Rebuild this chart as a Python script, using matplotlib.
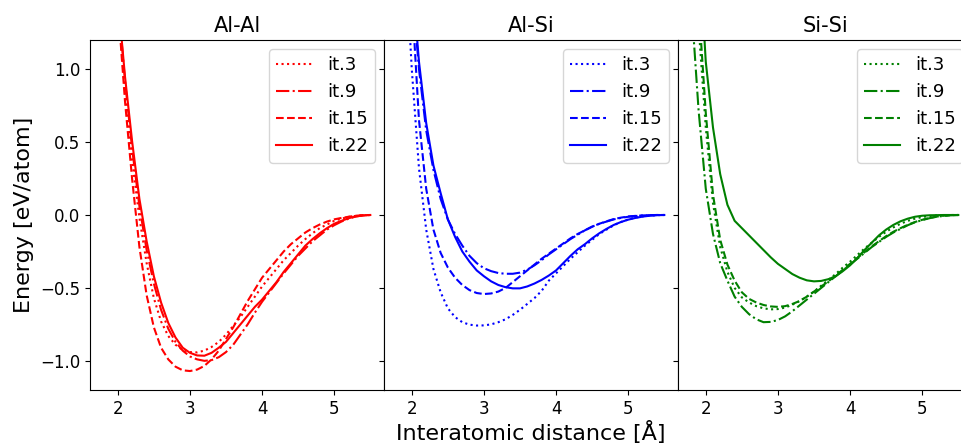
import matplotlib
matplotlib.use("Agg")
import matplotlib.pyplot as plt

# distance grid (Å)
r = [1.8, 1.9, 2.0, 2.1, 2.2, 2.3, 2.4, 2.5, 2.6, 2.7, 2.8, 2.9, 3.0, 3.1, 3.2,
     3.3, 3.4, 3.5, 3.6, 3.7, 3.8, 3.9, 4.0, 4.1, 4.2, 4.3, 4.4, 4.5, 4.6, 4.7,
     4.8, 4.9, 5.0, 5.1, 5.2, 5.3, 5.4, 5.5]

titles = ["Al-Al", "Al-Si", "Si-Si"]
colors = ["red", "blue", "green"]
labels = ["it.3", "it.9", "it.15", "it.22"]
styles = [":", "-.", "--", "-"]

# Al-Al
alal_it3 = [2.9, 2.1, 1.45, 0.85, 0.37, -0.02, -0.33, -0.57, -0.73, -0.83, -0.89, -0.925,
            -0.94, -0.942, -0.93, -0.905, -0.87, -0.82, -0.76, -0.70, -0.63, -0.56, -0.49,
            -0.43, -0.37, -0.31, -0.26, -0.21, -0.165, -0.125, -0.09, -0.065, -0.04,
            -0.025, -0.013, -0.006, -0.002, 0.0]
alal_it9 = [3.0, 2.2, 1.5, 0.92, 0.45, 0.06, -0.24, -0.47, -0.65, -0.78, -0.87, -0.93,
            -0.97, -0.99, -1.0, -0.995, -0.975, -0.94, -0.89, -0.82, -0.75, -0.67, -0.595,
            -0.53, -0.465, -0.40, -0.34, -0.28, -0.23, -0.18, -0.14, -0.10, -0.07,
            -0.045, -0.025, -0.01, -0.003, 0.0]
alal_it15 = [2.9, 2.1, 1.45, 0.78, 0.24, -0.22, -0.55, -0.77, -0.91, -0.99, -1.04, -1.065,
             -1.07, -1.06, -1.035, -0.99, -0.93, -0.85, -0.77, -0.68, -0.59, -0.51, -0.43,
             -0.37, -0.31, -0.25, -0.20, -0.16, -0.12, -0.09, -0.065, -0.045, -0.03,
             -0.02, -0.012, -0.005, -0.001, 0.0]
alal_it22 = [3.0, 2.2, 1.5, 0.95, 0.50, 0.11, -0.18, -0.42, -0.60, -0.74, -0.84, -0.91,
             -0.945, -0.963, -0.965, -0.945, -0.91, -0.87, -0.81, -0.75, -0.69, -0.63,
             -0.58, -0.52, -0.46, -0.39, -0.33, -0.27, -0.21, -0.165, -0.125, -0.09,
             -0.06, -0.04, -0.022, -0.01, -0.003, 0.0]

# Al-Si
alsi_it3 = [2.9, 1.9, 1.0, 0.32, -0.10, -0.37, -0.53, -0.64, -0.70, -0.735, -0.752, -0.758,
            -0.757, -0.75, -0.735, -0.715, -0.685, -0.65, -0.61, -0.57, -0.52, -0.45, -0.40,
            -0.35, -0.30, -0.255, -0.21, -0.17, -0.13, -0.10, -0.07, -0.048, -0.03,
            -0.018, -0.009, -0.004, -0.001, 0.0]
alsi_it9 = [3.6, 2.6, 1.6, 1.0, 0.58, 0.31, 0.11, -0.03, -0.13, -0.21, -0.28, -0.33,
            -0.365, -0.385, -0.398, -0.403, -0.403, -0.395, -0.375, -0.345, -0.31, -0.27,
            -0.235, -0.20, -0.165, -0.135, -0.105, -0.08, -0.06, -0.045, -0.03, -0.02,
            -0.012, -0.007, -0.003, -0.001, 0.0, 0.0]
alsi_it15 = [3.2, 2.2, 1.5, 0.65, 0.18, -0.10, -0.26, -0.36, -0.43, -0.48, -0.515, -0.535,
             -0.542, -0.538, -0.525, -0.50, -0.46, -0.42, -0.38, -0.34, -0.30, -0.265,
             -0.23, -0.195, -0.16, -0.13, -0.105, -0.08, -0.06, -0.043, -0.028, -0.018,
             -0.01, -0.006, -0.003, -0.001, 0.0, 0.0]
alsi_it22 = [3.7, 2.7, 1.65, 1.05, 0.63, 0.34, 0.15, -0.03, -0.15, -0.25, -0.32, -0.38,
             -0.42, -0.455, -0.48, -0.495, -0.503, -0.503, -0.49, -0.47, -0.445, -0.415,
             -0.38, -0.33, -0.28, -0.235, -0.20, -0.16, -0.125, -0.095, -0.068, -0.048,
             -0.032, -0.02, -0.011, -0.005, -0.001, 0.0]

# Si-Si
sisi_it3 = [2.0, 1.30, 0.60, 0.08, -0.22, -0.39, -0.50, -0.565, -0.60, -0.625, -0.64, -0.647,
            -0.645, -0.635, -0.615, -0.59, -0.56, -0.525, -0.485, -0.445, -0.405, -0.36,
            -0.32, -0.275, -0.23, -0.19, -0.15, -0.115, -0.085, -0.06, -0.04, -0.025,
            -0.014, -0.007, -0.003, -0.001, 0.0, 0.0]
sisi_it9 = [1.45, 0.72, 0.18, -0.13, -0.33, -0.45, -0.56, -0.63, -0.68, -0.715, -0.735, -0.733,
            -0.72, -0.695, -0.66, -0.62, -0.58, -0.54, -0.50, -0.46, -0.42, -0.38, -0.34,
            -0.30, -0.26, -0.22, -0.185, -0.15, -0.12, -0.095, -0.07, -0.05, -0.035,
            -0.022, -0.012, -0.006, -0.002, 0.0]
sisi_it15 = [2.2, 1.45, 0.70, 0.14, -0.17, -0.34, -0.45, -0.53, -0.575, -0.60, -0.617, -0.627,
             -0.63, -0.625, -0.61, -0.59, -0.56, -0.525, -0.49, -0.455, -0.415, -0.375,
             -0.335, -0.295, -0.255, -0.215, -0.18, -0.145, -0.115, -0.09, -0.067, -0.048,
             -0.033, -0.02, -0.011, -0.005, -0.001, 0.0]
sisi_it22 = [3.0, 1.9, 1.05, 0.60, 0.28, 0.07, -0.04, -0.09, -0.14, -0.19, -0.24, -0.29,
             -0.335, -0.37, -0.405, -0.43, -0.448, -0.455, -0.452, -0.44, -0.42, -0.385,
             -0.345, -0.295, -0.24, -0.19, -0.14, -0.10, -0.068, -0.043, -0.025, -0.012,
             -0.005, -0.002, -0.001, 0.0, 0.0, 0.0]

panels = [
    [alal_it3, alal_it9, alal_it15, alal_it22],
    [alsi_it3, alsi_it9, alsi_it15, alsi_it22],
    [sisi_it3, sisi_it9, sisi_it15, sisi_it22],
]

fig = plt.figure(figsize=(9.62, 4.44), dpi=100)
W, H = 962.0, 444.0
left0, axw = 90 / W, 294 / W
bottom, axh = 1 - 390 / H, 350 / H

axes = []
for i in range(3):
    if i == 0:
        ax = fig.add_axes([left0 + i * axw, bottom, axw, axh])
    else:
        ax = fig.add_axes([left0 + i * axw, bottom, axw, axh], sharey=axes[0])
        ax.tick_params(labelleft=False)
    axes.append(ax)
    for ys, lab, ls in zip(panels[i], labels, styles):
        ax.plot(r, ys, linestyle=ls, color=colors[i], label=lab, linewidth=1.5)
    ax.set_title(titles[i], fontsize=15)
    ax.set_xlim(1.615, 5.69)
    ax.set_xticks([2, 3, 4, 5])
    ax.tick_params(labelsize=12)
    ax.legend(loc="upper right", fontsize=13)

axes[0].set_ylim(-1.2, 1.2)
axes[0].set_yticks([-1.0, -0.5, 0.0, 0.5, 1.0])
axes[0].set_ylabel("Energy [eV/atom]", fontsize=16)
fig.text(531 / W, 0.0, "Interatomic distance [Å]", ha="center", va="bottom", fontsize=16)

fig.savefig("out.png", dpi=100)
